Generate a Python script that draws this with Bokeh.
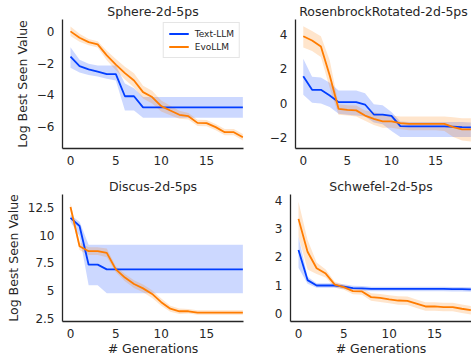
from bokeh.plotting import figure
from bokeh.layouts import column, row
from bokeh.models import Legend, LegendItem
from bokeh.embed import file_html
from bokeh.resources import INLINE

generations = list(range(20))
series_names = ["Text-LLM", "EvoLLM"]
x_ticks = [0, 5, 10, 15]

# Sphere-2d-5ps
sphere_text_mean = [-1.6, -2.2, -2.4, -2.55, -2.7, -2.7, -4.1, -4.1, -4.8, -4.8, -4.8, -4.8, -4.8, -4.8, -4.8, -4.8, -4.8, -4.8, -4.8, -4.8]
sphere_text_upper = [-1.0, -1.8, -2.05, -2.15, -2.15, -2.15, -3.3, -3.6, -4.15, -4.15, -4.15, -4.15, -4.15, -4.15, -4.15, -4.15, -4.15, -4.15, -4.15, -4.15]
sphere_text_lower = [-2.3, -2.6, -2.75, -2.85, -3.0, -3.1, -5.0, -5.0, -5.45, -5.45, -5.45, -5.45, -5.45, -5.45, -5.45, -5.45, -5.45, -5.45, -5.45, -5.45]
sphere_evo_mean = [0.0, -0.4, -0.68, -0.82, -1.52, -2.1, -2.64, -3.1, -3.84, -4.15, -4.72, -5.0, -5.27, -5.36, -5.78, -5.8, -6.05, -6.37, -6.37, -6.69]
sphere_evo_upper = [0.3, -0.15, -0.48, -0.62, -1.22, -1.75, -2.24, -2.65, -3.44, -3.75, -4.37, -4.7, -5.02, -5.16, -5.58, -5.6, -5.85, -6.17, -6.17, -6.49]
sphere_evo_lower = [-0.3, -0.65, -0.88, -1.02, -1.82, -2.45, -3.04, -3.55, -4.24, -4.55, -5.07, -5.3, -5.52, -5.56, -5.98, -6.0, -6.25, -6.57, -6.57, -6.89]
sphere_y_ticks = [-6, -4, -2, 0]

# RosenbrockRotated-2d-5ps
rosen_text_mean = [1.58, 0.79, 0.79, 0.46, 0.08, 0.08, 0.08, -0.06, -0.64, -0.64, -0.72, -1.31, -1.33, -1.33, -1.33, -1.33, -1.33, -1.35, -1.37, -1.38]
rosen_text_upper = [2.59, 1.55, 1.5, 1.2, 0.75, 0.75, 0.75, 0.6, -0.05, -0.1, -0.5, -1.05, -1.08, -1.08, -1.08, -1.08, -1.08, -1.08, -1.08, -1.1]
rosen_text_lower = [0.5, 0.05, 0.0, -0.2, -0.6, -0.65, -0.7, -0.75, -1.1, -1.2, -1.6, -1.95, -1.95, -1.95, -1.95, -1.95, -1.95, -1.95, -1.95, -1.95]
rosen_evo_mean = [3.9, 3.65, 3.3, 1.62, -0.31, -0.37, -0.4, -0.7, -0.89, -1.04, -1.04, -1.14, -1.18, -1.18, -1.18, -1.18, -1.18, -1.37, -1.5, -1.5]
rosen_evo_upper = [4.48, 4.2, 3.9, 2.5, -0.05, -0.1, -0.12, -0.4, -0.5, -0.65, -0.7, -0.75, -0.75, -0.75, -0.75, -0.75, -0.75, -0.8, -0.85, -0.85]
rosen_evo_lower = [3.25, 3.05, 2.7, 0.9, -0.65, -0.7, -0.75, -1.0, -1.25, -1.4, -1.4, -1.5, -1.55, -1.55, -1.55, -1.55, -1.6, -1.95, -2.15, -2.2]
rosen_y_ticks = [-2, 0, 2, 4]

# Discus-2d-5ps
discus_text_mean = [11.55, 10.82, 7.34, 7.34, 6.92, 6.92, 6.92, 6.92, 6.92, 6.92, 6.92, 6.92, 6.92, 6.92, 6.92, 6.92, 6.92, 6.92, 6.92, 6.92]
discus_text_upper = [11.8, 11.2, 9.14, 9.14, 9.14, 9.14, 9.14, 9.14, 9.14, 9.14, 9.14, 9.14, 9.14, 9.14, 9.14, 9.14, 9.14, 9.14, 9.14, 9.14]
discus_text_lower = [11.2, 9.9, 5.5, 5.5, 4.77, 4.77, 4.77, 4.77, 4.77, 4.77, 4.77, 4.77, 4.77, 4.77, 4.77, 4.77, 4.77, 4.77, 4.77, 4.77]
discus_evo_mean = [12.53, 8.99, 8.55, 8.55, 8.4, 6.92, 6.18, 5.6, 5.21, 4.71, 3.97, 3.38, 3.15, 3.15, 3.03, 3.03, 3.03, 3.03, 3.03, 3.03]
discus_evo_upper = [12.9, 9.35, 8.9, 8.9, 8.8, 7.2, 6.5, 5.95, 5.55, 5.05, 4.3, 3.65, 3.4, 3.35, 3.25, 3.25, 3.25, 3.25, 3.25, 3.25]
discus_evo_lower = [12.2, 8.65, 8.2, 8.2, 8.0, 6.65, 5.85, 5.25, 4.85, 4.35, 3.65, 3.1, 2.9, 2.95, 2.83, 2.83, 2.83, 2.83, 2.83, 2.83]
discus_y_ticks = [2.5, 5.0, 7.5, 10.0, 12.5]

# Schwefel-2d-5ps
schwefel_text_mean = [2.24, 1.18, 0.99, 0.99, 0.99, 0.95, 0.9, 0.89, 0.87, 0.87, 0.87, 0.87, 0.87, 0.87, 0.87, 0.87, 0.87, 0.86, 0.86, 0.85]
schwefel_text_upper = [2.72, 1.3, 1.07, 1.07, 1.07, 1.03, 0.98, 0.97, 0.95, 0.95, 0.95, 0.95, 0.95, 0.95, 0.95, 0.95, 0.95, 0.94, 0.94, 0.93]
schwefel_text_lower = [1.62, 1.05, 0.91, 0.91, 0.91, 0.87, 0.82, 0.81, 0.79, 0.79, 0.79, 0.79, 0.79, 0.79, 0.79, 0.79, 0.79, 0.78, 0.78, 0.77]
schwefel_evo_mean = [3.34, 2.18, 1.6, 1.41, 1.02, 0.93, 0.79, 0.78, 0.58, 0.55, 0.5, 0.46, 0.45, 0.35, 0.25, 0.25, 0.23, 0.23, 0.17, 0.12]
schwefel_evo_upper = [3.94, 2.6, 1.8, 1.55, 1.12, 1.02, 0.9, 0.9, 0.72, 0.69, 0.65, 0.61, 0.6, 0.5, 0.4, 0.4, 0.38, 0.38, 0.32, 0.27]
schwefel_evo_lower = [2.72, 1.55, 1.4, 1.27, 0.92, 0.84, 0.68, 0.66, 0.45, 0.41, 0.36, 0.31, 0.3, 0.2, 0.1, 0.1, 0.08, 0.08, 0.02, -0.03]
schwefel_y_ticks = [0, 1, 2, 3, 4]

BLUE = "#023eff"
ORANGE = "#ff7c00"
TEXT = "#262626"
FONT = "DejaVu Sans"


def make_panel(title, y_range, y_ticks, text_series, evo_series, width, height,
               b_left, b_right, b_top, b_bottom, y_label=None, x_label=None, legend=False):
    p = figure(width=width, height=height, output_backend="svg", toolbar_location=None,
               x_range=(-0.88, 19.07), y_range=y_range,
               min_border_left=b_left, min_border_right=b_right,
               min_border_top=b_top, min_border_bottom=b_bottom,
               outline_line_color=None, background_fill_color="white",
               border_fill_color="white")
    p.title.text = title
    p.title.text_font = FONT
    p.title.text_font_size = "12.5px"
    p.title.text_font_style = "normal"
    p.title.text_color = TEXT
    p.title.align = "center"
    p.title.standoff = 1
    p.grid.visible = False
    for ax in (p.xaxis[0], p.yaxis[0]):
        ax.axis_line_color = TEXT
        ax.axis_line_width = 1.3
        ax.major_tick_out = 0
        ax.major_tick_in = 0
        ax.minor_tick_out = 0
        ax.minor_tick_in = 0
        ax.major_label_text_font = FONT
        ax.major_label_text_font_size = "12px"
        ax.major_label_text_color = TEXT
        ax.axis_label_text_font = FONT
        ax.axis_label_text_font_size = "12.5px"
        ax.axis_label_text_font_style = "normal"
        ax.axis_label_text_color = TEXT
    p.xaxis.major_label_standoff = 7
    p.xaxis.axis_label_standoff = 0
    p.yaxis.major_label_standoff = 8
    p.yaxis.axis_label_standoff = 4
    p.xaxis.ticker = x_ticks
    p.yaxis.ticker = y_ticks
    p.yaxis.major_label_overrides = {t: ("\u2212" + str(abs(t))) for t in y_ticks if t < 0}
    if y_label:
        p.yaxis.axis_label = y_label
    if x_label:
        p.xaxis.axis_label = x_label

    tm, tu, tl = text_series
    em, eu, el = evo_series
    p.varea(x=generations, y1=tl, y2=tu, fill_color=BLUE, fill_alpha=0.2)
    p.varea(x=generations, y1=el, y2=eu, fill_color=ORANGE, fill_alpha=0.2)
    r1 = p.line(generations, tm, line_color=BLUE, line_width=1.8)
    r2 = p.line(generations, em, line_color=ORANGE, line_width=1.8)
    if legend:
        lg = Legend(items=[LegendItem(label=series_names[0], renderers=[r1]),
                           LegendItem(label=series_names[1], renderers=[r2])],
                    location="top_right")
        lg.label_text_font = FONT
        lg.label_text_font_size = "9px"
        lg.label_text_color = TEXT
        lg.glyph_width = 20
        lg.glyph_height = 11
        lg.label_height = 11
        lg.label_standoff = 6
        lg.spacing = 2
        lg.padding = 5
        lg.margin = 3
        lg.border_line_color = "#cccccc"
        lg.border_line_width = 1
        lg.background_fill_alpha = 0.85
        p.add_layout(lg)
    return p


p1 = make_panel("Sphere-2d-5ps", (-7.4, 0.75), sphere_y_ticks,
                (sphere_text_mean, sphere_text_upper, sphere_text_lower),
                (sphere_evo_mean, sphere_evo_upper, sphere_evo_lower),
                266, 175, 62, 23, 19, 27, y_label="Log Best Seen Value", legend=True)
p2 = make_panel("RosenbrockRotated-2d-5ps", (-2.61, 4.87), rosen_y_ticks,
                (rosen_text_mean, rosen_text_upper, rosen_text_lower),
                (rosen_evo_mean, rosen_evo_upper, rosen_evo_lower),
                205, 175, 24, 0, 19, 27)
p3 = make_panel("Discus-2d-5ps", (2.23, 13.65), discus_y_ticks,
                (discus_text_mean, discus_text_upper, discus_text_lower),
                (discus_evo_mean, discus_evo_upper, discus_evo_lower),
                266, 183, 62, 23, 19, 35, y_label="Log Best Seen Value", x_label="# Generations")
p4 = make_panel("Schwefel-2d-5ps", (-0.28, 4.2), schwefel_y_ticks,
                (schwefel_text_mean, schwefel_text_upper, schwefel_text_lower),
                (schwefel_evo_mean, schwefel_evo_upper, schwefel_evo_lower),
                205, 183, 24, 0, 19, 35, x_label="# Generations")

layout = column(row(p1, p2, spacing=0), row(p3, p4, spacing=0), spacing=0)

open("out.html", "w").write(file_html(layout, INLINE))
